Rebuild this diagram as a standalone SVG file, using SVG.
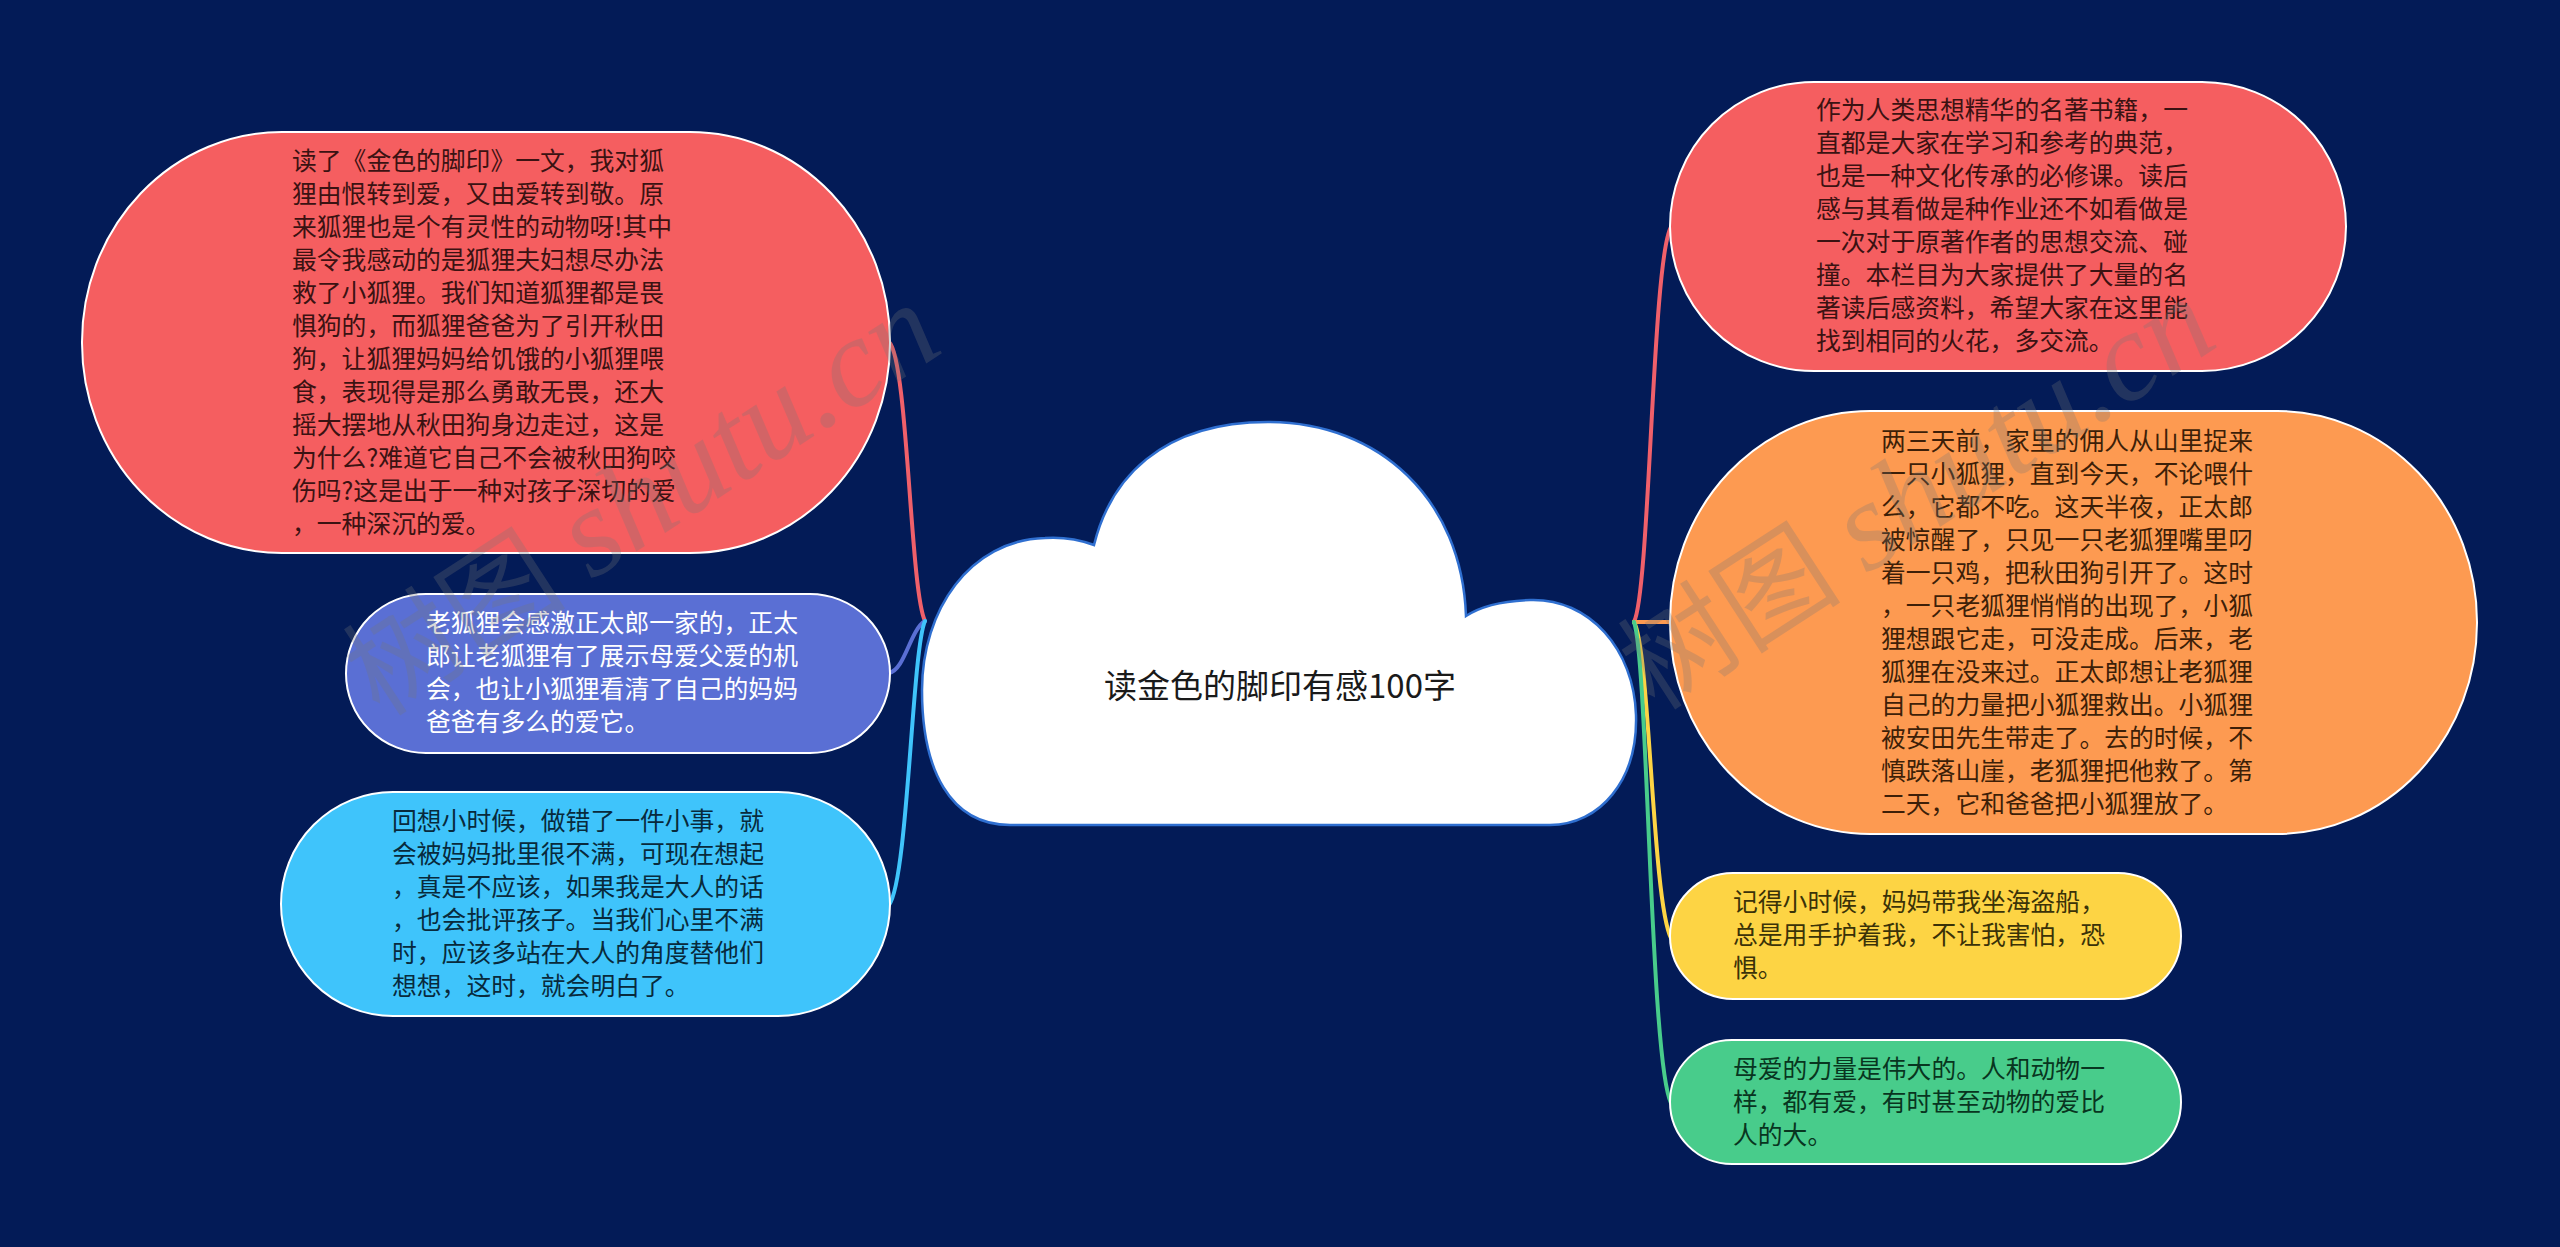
<svg xmlns="http://www.w3.org/2000/svg" width="2560" height="1247" viewBox="0 0 2560 1247">
<style>
.t{font-family:"Noto Sans CJK SC","Noto Sans",sans-serif;font-size:24.8px}
.node{stroke:#ffffff;stroke-width:2}
.ln{fill:none;stroke-width:4;stroke-linecap:round}
.wm{font-family:"Liberation Serif",serif;font-style:italic;font-size:126px;fill:#777777;opacity:0.27}
.wmc{font-family:"Noto Sans CJK SC",serif;font-size:112px;fill:#777777;opacity:0.27}
</style>
<rect width="2560" height="1247" fill="#031b57"/>
<g id="connectors">
<path class="ln" stroke="#f0606a" d="M925 621 C910 590 908 360 889 342"/>
<path class="ln" stroke="#5a6fd4" d="M925 621 C910 630 905 670 889 673"/>
<path class="ln" stroke="#3fc4fb" d="M925 621 C912 650 908 880 889 905"/>
<path class="ln" stroke="#f0606a" d="M1634 622 C1650 590 1652 260 1671 227"/>
<path class="ln" stroke="#fd9a51" d="M1634 622 L1671 622"/>
<path class="ln" stroke="#fdd444" d="M1634 622 C1650 650 1652 900 1671 938"/>
<path class="ln" stroke="#48cc8b" d="M1634 622 C1648 660 1650 1060 1671 1103"/>
</g>
<g id="center">
<path d="M1010 825 L1550 825 C1600 825 1638 780 1636 715 C1634 650 1590 598 1530 600 C1500 601 1478 608 1466 616 C1462 500 1380 422 1268 422 C1160 422 1110 480 1094 545 C1075 538 1060 537 1045 538 C970 540 922 610 922 690 C922 770 950 825 1010 825 Z" fill="#ffffff" stroke="#2f6fd0" stroke-width="2.5"/>
<text x="1280" y="698" text-anchor="middle" font-family="Noto Sans CJK SC, Noto Sans, sans-serif" font-size="33" fill="#1a1a1a">读金色的脚印有感100字</text>
</g>
<g id="n1">
<rect class="node" x="82" y="132" width="808" height="421" rx="200" ry="210" fill="#f55e60"/>
<text class="t" fill="#3b1212">
<tspan x="292" y="170">读了《金色的脚印》一文，我对狐</tspan>
<tspan x="292" y="203">狸由恨转到爱，又由爱转到敬。原</tspan>
<tspan x="292" y="236">来狐狸也是个有灵性的动物呀!其中</tspan>
<tspan x="292" y="269">最令我感动的是狐狸夫妇想尽办法</tspan>
<tspan x="292" y="302">救了小狐狸。我们知道狐狸都是畏</tspan>
<tspan x="292" y="335">惧狗的，而狐狸爸爸为了引开秋田</tspan>
<tspan x="292" y="368">狗，让狐狸妈妈给饥饿的小狐狸喂</tspan>
<tspan x="292" y="401">食，表现得是那么勇敢无畏，还大</tspan>
<tspan x="292" y="434">摇大摆地从秋田狗身边走过，这是</tspan>
<tspan x="292" y="467">为什么?难道它自己不会被秋田狗咬</tspan>
<tspan x="292" y="500">伤吗?这是出于一种对孩子深切的爱</tspan>
<tspan x="292" y="533">，一种深沉的爱。</tspan>
</text>
</g>
<g id="n2">
<rect class="node" x="346" y="594" width="544" height="159" rx="80" ry="79.5" fill="#5a6fd4"/>
<text class="t" fill="#ffffff">
<tspan x="426" y="632">老狐狸会感激正太郎一家的，正太</tspan>
<tspan x="426" y="665">郎让老狐狸有了展示母爱父爱的机</tspan>
<tspan x="426" y="698">会，也让小狐狸看清了自己的妈妈</tspan>
<tspan x="426" y="731">爸爸有多么的爱它。</tspan>
</text>
</g>
<g id="n3">
<rect class="node" x="281" y="792" width="609" height="224" rx="112" ry="112" fill="#3fc4fb"/>
<text class="t" fill="#082a3c">
<tspan x="392" y="830">回想小时候，做错了一件小事，就</tspan>
<tspan x="392" y="863">会被妈妈批里很不满，可现在想起</tspan>
<tspan x="392" y="896">，真是不应该，如果我是大人的话</tspan>
<tspan x="392" y="929">，也会批评孩子。当我们心里不满</tspan>
<tspan x="392" y="962">时，应该多站在大人的角度替他们</tspan>
<tspan x="392" y="995">想想，这时，就会明白了。</tspan>
</text>
</g>
<g id="n4">
<rect class="node" x="1670" y="82" width="676" height="289" rx="144" ry="144.5" fill="#f55e60"/>
<text class="t" fill="#3b1212">
<tspan x="1816" y="119">作为人类思想精华的名著书籍，一</tspan>
<tspan x="1816" y="152">直都是大家在学习和参考的典范，</tspan>
<tspan x="1816" y="185">也是一种文化传承的必修课。读后</tspan>
<tspan x="1816" y="218">感与其看做是种作业还不如看做是</tspan>
<tspan x="1816" y="251">一次对于原著作者的思想交流、碰</tspan>
<tspan x="1816" y="284">撞。本栏目为大家提供了大量的名</tspan>
<tspan x="1816" y="317">著读后感资料，希望大家在这里能</tspan>
<tspan x="1816" y="350">找到相同的火花，多交流。</tspan>
</text>
</g>
<g id="n5">
<rect class="node" x="1670" y="411" width="807" height="423" rx="200" ry="211" fill="#fd9a51"/>
<text class="t" fill="#3d1f08">
<tspan x="1881" y="450">两三天前，家里的佣人从山里捉来</tspan>
<tspan x="1881" y="483">一只小狐狸，直到今天，不论喂什</tspan>
<tspan x="1881" y="516">么，它都不吃。这天半夜，正太郎</tspan>
<tspan x="1881" y="549">被惊醒了，只见一只老狐狸嘴里叼</tspan>
<tspan x="1881" y="582">着一只鸡，把秋田狗引开了。这时</tspan>
<tspan x="1881" y="615">，一只老狐狸悄悄的出现了，小狐</tspan>
<tspan x="1881" y="648">狸想跟它走，可没走成。后来，老</tspan>
<tspan x="1881" y="681">狐狸在没来过。正太郎想让老狐狸</tspan>
<tspan x="1881" y="714">自己的力量把小狐狸救出。小狐狸</tspan>
<tspan x="1881" y="747">被安田先生带走了。去的时候，不</tspan>
<tspan x="1881" y="780">慎跌落山崖，老狐狸把他救了。第</tspan>
<tspan x="1881" y="813">二天，它和爸爸把小狐狸放了。</tspan>
</text>
</g>
<g id="n6">
<rect class="node" x="1670" y="873" width="511" height="126" rx="63" ry="63" fill="#fdd444"/>
<text class="t" fill="#3a3208">
<tspan x="1733" y="911">记得小时候，妈妈带我坐海盗船，</tspan>
<tspan x="1733" y="944">总是用手护着我，不让我害怕，恐</tspan>
<tspan x="1733" y="977">惧。</tspan>
</text>
</g>
<g id="n7">
<rect class="node" x="1670" y="1040" width="511" height="124" rx="62" ry="62" fill="#48cc8b"/>
<text class="t" fill="#083520">
<tspan x="1733" y="1078">母爱的力量是伟大的。人和动物一</tspan>
<tspan x="1733" y="1111">样，都有爱，有时甚至动物的爱比</tspan>
<tspan x="1733" y="1144">人的大。</tspan>
</text>
</g>
<g id="watermark">
<text transform="translate(380 718) rotate(-33)"><tspan class="wmc">树图</tspan><tspan class="wm" dx="28">shutu.cn</tspan></text>
<text transform="translate(1655 712) rotate(-33)"><tspan class="wmc">树图</tspan><tspan class="wm" dx="28">shutu.cn</tspan></text>
</g>
</svg>
